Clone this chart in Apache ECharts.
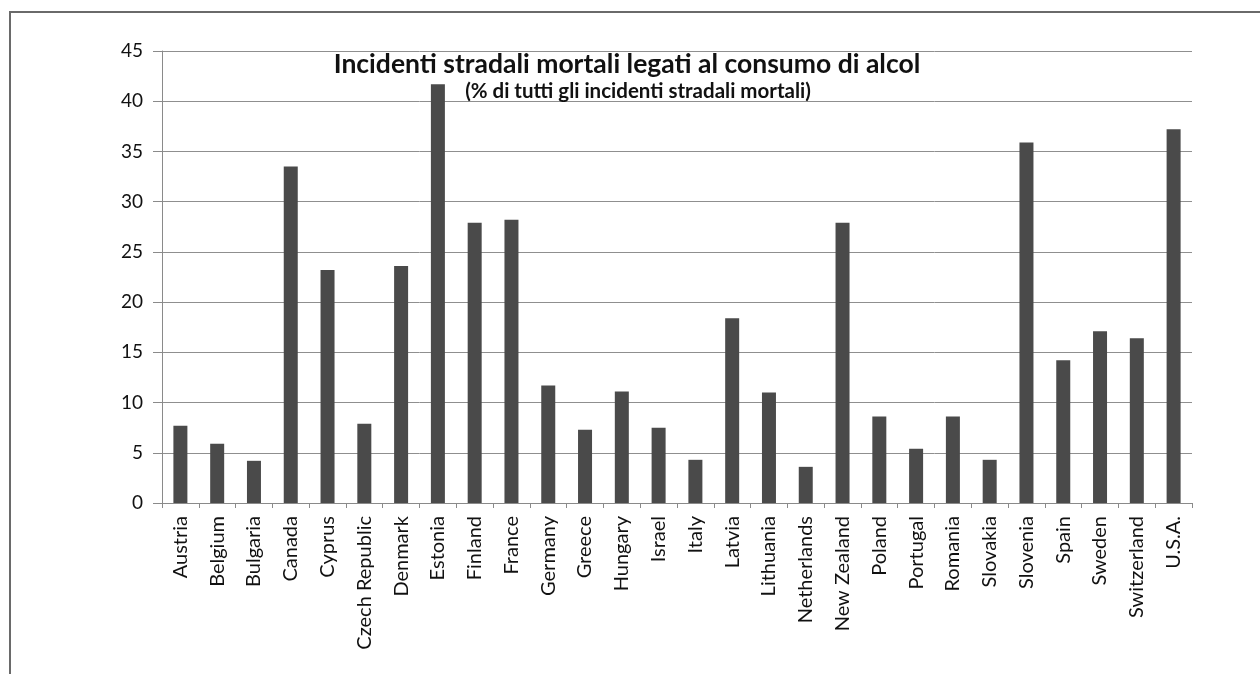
<!DOCTYPE html>
<html>
<head>
<meta charset="utf-8">
<script src="https://cdn.jsdelivr.net/npm/echarts@6/dist/echarts.min.js"></script>
<style>
html,body{margin:0;padding:0;background:#fff;}
#chart{width:1260px;height:674px;}
</style>
</head>
<body>
<div id="chart"></div>
<script>
const countries = ["Austria","Belgium","Bulgaria","Canada","Cyprus","Czech Republic","Denmark","Estonia","Finland","France","Germany","Greece","Hungary","Israel","Italy","Latvia","Lithuania","Netherlands","New Zealand","Poland","Portugal","Romania","Slovakia","Slovenia","Spain","Sweden","Switzerland","U.S.A."];
const values = [7.7,5.9,4.2,33.5,23.2,7.9,23.6,41.7,27.9,28.2,11.7,7.3,11.1,7.5,4.3,18.4,11.0,3.6,27.9,8.6,5.4,8.6,4.3,35.9,14.2,17.1,16.4,37.2];
const titleText = "Incidenti stradali mortali legati al consumo di alcol";
const subtitleText = "(% di tutti gli incidenti stradali mortali)";

const FONT = "Lato, 'Open Sans', sans-serif";
const chart = echarts.init(document.getElementById('chart'), null, {renderer:'canvas'});
chart.setOption({
  animation:false,
  backgroundColor:'#ffffff',
  grid:{left:162, right:68, top:51, bottom:171, containLabel:false},
  xAxis:{
    type:'category',
    data:countries,
    axisLine:{show:true, lineStyle:{color:'#8a8a8a', width:1}},
    axisTick:{show:true, alignWithLabel:false, length:5, lineStyle:{color:'#8a8a8a'}},
    axisLabel:{rotate:90, interval:0, color:'#111', fontFamily:FONT, fontSize:20, margin:13},
    splitLine:{show:false}
  },
  yAxis:{
    type:'value', min:0, max:45, interval:5,
    axisLine:{show:true, lineStyle:{color:'#8a8a8a', width:1}},
    axisTick:{show:true, inside:false, length:9, lineStyle:{color:'#8a8a8a'}},
    axisLabel:{color:'#111', fontFamily:FONT, fontSize:19, margin:19},
    splitLine:{show:true, lineStyle:{color:'#8f8f8f', width:1}}
  },
  series:[{
    type:'bar',
    data:values,
    barWidth:14,
    itemStyle:{color:'#4a4a4a'}
  }],
  graphic:[
    {type:'polyline', silent:true, shape:{points:[[10,674],[10,12],[1260,12]]}, style:{stroke:'#6a6a6a', lineWidth:2, fill:null}},
    {type:'text', x:627, y:64, z:100, style:{text:titleText, font:"bold 26.5px "+FONT, fill:'#111', textAlign:'center', textVerticalAlign:'middle'}},
    {type:'text', x:638, y:91, z:100, style:{text:subtitleText, font:"bold 20.5px "+FONT, fill:'#111', textAlign:'center', textVerticalAlign:'middle'}}
  ]
});
</script>
</body>
</html>
